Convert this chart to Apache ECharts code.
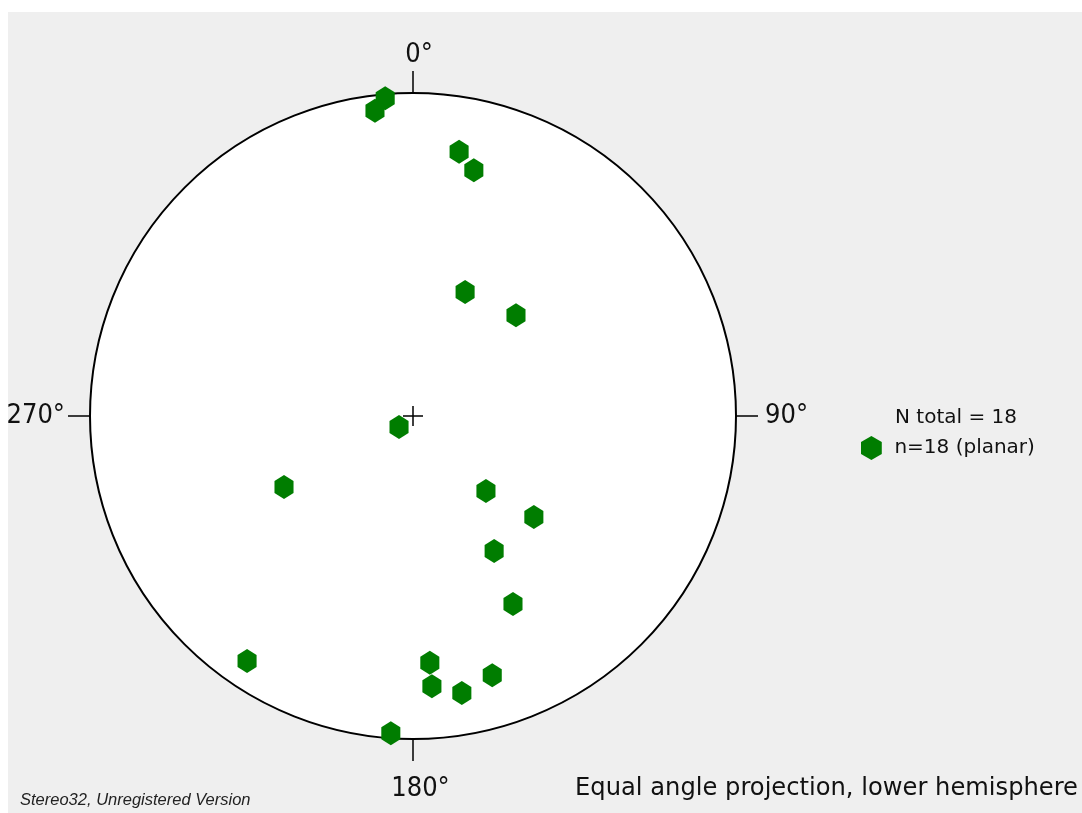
<!DOCTYPE html>
<html>
<head>
<meta charset="utf-8">
<script src="https://cdn.jsdelivr.net/npm/echarts@6/dist/echarts.min.js"></script>
<style>
  html, body { margin: 0; padding: 0; background: #fff; }
  #chart { position: absolute; left: 8px; top: 12px; width: 1074px; height: 801px; }
</style>
</head>
<body>
<div id="chart"></div>
<script>
// pole trend / plunge (degrees)
const trend = [355.0, 352.9, 9.9, 13.9, 22.8, 45.6, 231.8, 241.2, 135.8, 129.9, 149.0, 152.0, 214.1, 176.1, 163.0, 176.0, 170.0, 184.0]
const plunge = [0.7, 2.8, 10.6, 13.8, 44.8, 41.9, 83.7, 41.0, 54.1, 38.0, 38.0, 23.2, 5.0, 15.1, 10.0, 10.0, 7.9, 0.9]
const compassTicks = [0, 90, 180, 270]
const seriesName = 'n=18 (planar)'
const totalLabel = 'N total = 18'

const labelFont = '"DejaVu Sans Condensed", "DejaVu Sans", sans-serif'
const textFont = '"DejaVu Sans", sans-serif'
const hexagon = 'path://M0,-1L0.866,-0.5L0.866,0.5L0,1L-0.866,0.5L-0.866,-0.5Z'
const cross = 'path://M9.25,0h1.5v20h-1.5z M0,9.25h20v1.5h-20z'

// equal angle (stereographic) projection, unit circle radius
const points = trend.map((t, i) => {
  const r = Math.tan((90 - plunge[i]) / 2 * Math.PI / 180)
  return [r, t]
})

const chart = echarts.init(document.getElementById('chart'))

chart.setOption({
  backgroundColor: '#efefef',
  animation: false,
  title: [
    {
      text: totalLabel, left: 887, top: 396, padding: 0,
      textStyle: { fontFamily: textFont, fontSize: 20, fontWeight: 'normal', color: '#111' },
    },
    {
      text: 'Equal angle projection, lower hemisphere', right: 4, top: 765, padding: 0,
      textStyle: { fontFamily: textFont, fontSize: 24.2, fontWeight: 'normal', color: '#111' },
    },
    {
      text: 'Stereo32, Unregistered Version', left: 12, top: 780, padding: 0,
      textStyle: { fontFamily: '"Liberation Sans", Arial, sans-serif', fontSize: 16.5, fontStyle: 'italic', fontWeight: 'normal', color: '#222' },
    },
  ],
  legend: {
    data: [seriesName],
    left: 853, top: 424,
    itemWidth: 36, itemHeight: 24, padding: 0,
    textStyle: { fontFamily: textFont, fontSize: 20, color: '#111' },
  },
  polar: { center: [405, 404], radius: 323 },
  angleAxis: {
    type: 'value', min: 0, max: 360, interval: 90,
    startAngle: 90, clockwise: true,
    axisLine: { lineStyle: { color: '#000', width: 2 } },
    axisTick: { length: 22, lineStyle: { color: '#000', width: 1.5 } },
    axisLabel: {
      margin: 25, fontFamily: labelFont, fontSize: 27, color: '#111',
      formatter: v => compassTicks.includes(v) ? '{d' + v + '|' + v + '°}' : '',
      rich: {
        d0: { fontFamily: labelFont, fontSize: 27, padding: [0, 0, 0, 12] },
        d90: { fontFamily: labelFont, fontSize: 27, padding: [0, 0, 0, 4] },
        d180: { fontFamily: labelFont, fontSize: 27, padding: [11, 0, 0, 15] },
        d270: { fontFamily: labelFont, fontSize: 27 },
      },
    },
    splitLine: { show: false },
  },
  radiusAxis: {
    type: 'value', min: 0, max: 1, interval: 1,
    axisLine: { show: false }, axisTick: { show: false }, axisLabel: { show: false },
    splitLine: { show: false },
    splitArea: { show: true, areaStyle: { color: ['#fff'] } },
  },
  series: [
    {
      name: seriesName,
      type: 'scatter',
      coordinateSystem: 'polar',
      symbol: hexagon,
      symbolSize: [22, 24],
      symbolKeepAspect: true,
      itemStyle: { color: '#007d00', opacity: 1 },
      data: points,
    },
    {
      name: 'centre',
      type: 'scatter',
      coordinateSystem: 'polar',
      symbol: cross,
      symbolSize: 20,
      z: 5,
      itemStyle: { color: '#000', opacity: 1 },
      silent: true,
      data: [[0, 0]],
    },
  ],
})
</script>
</body>
</html>
